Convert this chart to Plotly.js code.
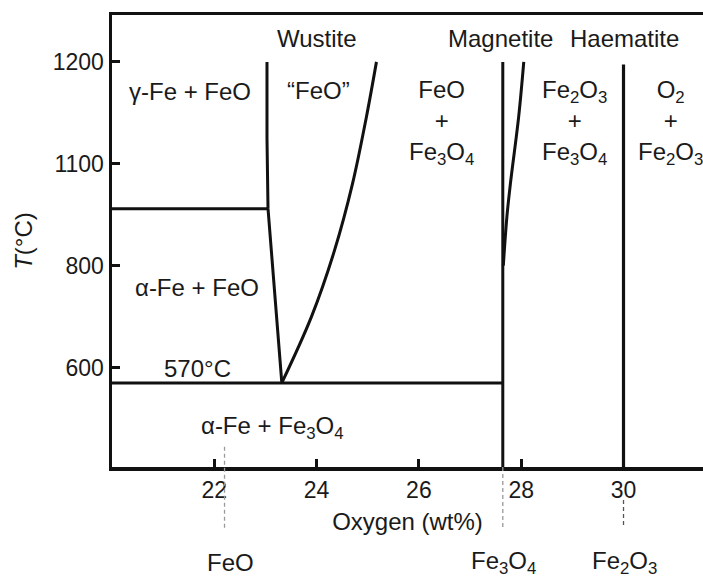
<!DOCTYPE html>
<html>
<head>
<meta charset="utf-8">
<script src="https://cdn.plot.ly/plotly-3.0.1.min.js"></script>
<style>html,body{margin:0;padding:0;background:#fff;}#chart{width:703px;height:579px;}</style>
</head>
<body>
<div id="chart"></div>
<script>
// ---- data (Oxygen wt% vs temperature °C) ----
const wustiteLeftX  = [23.03, 23.03, 23.05, 23.32];
const wustiteLeftT  = [1200, 1050, 912, 570];
const wustiteRightX = [23.32, 23.9, 24.35, 24.7, 24.97, 25.17];
const wustiteRightT = [570, 700, 830, 960, 1090, 1200];
const gammaAlphaX   = [20, 23.03];
const gammaAlphaT   = [912, 912];
const eutectoidX    = [20, 27.64];
const eutectoidT    = [570, 570];
const magnetiteLeftX  = [27.64, 27.64];
const magnetiteLeftT  = [400, 1200];
const magnetiteRightX = [27.65, 27.72, 27.79, 27.95, 28.05];
const magnetiteRightT = [800, 896, 962, 1092, 1200];
const haematiteX = [30.0, 30.0];
const haematiteT = [400, 1195];

const xTicks = [22, 24, 26, 28, 30];
const yTickVals = [600, 800, 1000, 1200];
const yTickText = ['600', '800', '1100', '1200'];

const compoundNames = ['FeO', 'Fe<sub>3</sub>O<sub>4</sub>', 'Fe<sub>2</sub>O<sub>3</sub>'];
const compoundX = [22.2, 27.64, 30.0];

const regionLabels = ['Wustite', 'Magnetite', 'Haematite', 'γ-Fe + FeO', '“FeO”',
  'FeO<br>+<br>Fe<sub>3</sub>O<sub>4</sub>', 'Fe<sub>2</sub>O<sub>3</sub><br>+<br>Fe<sub>3</sub>O<sub>4</sub>',
  'O<sub>2</sub><br>+<br>Fe<sub>2</sub>O<sub>3</sub>', 'α-Fe + FeO', '570°C', 'α-Fe + Fe<sub>3</sub>O<sub>4</sub>'];
const regionX = [24.01, 27.59, 30.01, 21.53, 24.03, 26.45, 29.05, 30.91, 21.67, 21.67, 23.13];
const regionT = [1245, 1245, 1245, 1141, 1143, 1082, 1082, 1082, 758, 599, 482];

// ---- drawing ----
const INK = '#111';
const FAMILY = 'Liberation Sans, Arial, Helvetica, sans-serif';
const FONT = {family: FAMILY, size: 24, color: '#1a1a1a'};
const TICKFONT = {family: FAMILY, size: 23, color: '#1a1a1a'};

function line(x, y, w, smooth) {
  return {x: x, y: y, type: 'scatter', mode: 'lines',
    line: {color: INK, width: w || 3, shape: smooth ? 'spline' : 'linear', smoothing: 1},
    hoverinfo: 'skip', showlegend: false};
}
const traces = [
  line(wustiteLeftX, wustiteLeftT),
  line(wustiteRightX, wustiteRightT, 3, true),
  line(gammaAlphaX, gammaAlphaT),
  line(eutectoidX, eutectoidT),
  line(magnetiteLeftX, magnetiteLeftT),
  line(magnetiteRightX, magnetiteRightT, 3, true),
  line(haematiteX, haematiteT, 3.2)
];

const annotations = regionLabels.map((t, i) => ({
  x: regionX[i], y: regionT[i], xref: 'x', yref: 'y', text: t, showarrow: false,
  font: FONT, xanchor: 'center', yanchor: 'middle'
}));
compoundNames.forEach((t, i) => {
  annotations.push({x: compoundX[i], y: -0.212, xref: 'x', yref: 'paper', text: t, showarrow: false,
    font: FONT, xanchor: 'center', yanchor: 'middle', xshift: i === 0 ? 6 : 1});
});

const dashTop = [0.045, 0, -0.073];
const dashColor = ['#9a9a9a', '#9a9a9a', '#555'];
const shapes = compoundX.map((x, i) => ({
  type: 'line', xref: 'x', yref: 'paper', x0: x, x1: x, y0: dashTop[i], y1: -0.135,
  line: {color: dashColor[i], width: 1.3, dash: '4px,3px'}
}));

const layout = {
  width: 703, height: 579,
  margin: {l: 112, r: 0, t: 15, b: 112},
  paper_bgcolor: '#fff', plot_bgcolor: '#fff',
  font: FONT,
  showlegend: false,
  xaxis: {
    range: [20, 31.554], tickvals: xTicks, ticks: 'inside', ticklen: 8, tickwidth: 3, tickcolor: INK,
    showline: true, linewidth: 3.5, linecolor: INK, mirror: true, showgrid: false, zeroline: false,
    tickfont: TICKFONT, fixedrange: true,
    title: {text: 'Oxygen (wt%)', font: FONT, standoff: 12}
  },
  yaxis: {
    range: [405, 1292], tickvals: yTickVals, ticktext: yTickText, ticks: 'inside', ticklen: 8, tickwidth: 3, tickcolor: INK,
    showline: true, linewidth: 3.5, linecolor: INK, mirror: false, showgrid: false, zeroline: false,
    tickfont: TICKFONT, fixedrange: true,
    title: {text: '<i>T</i>(°C)', font: FONT, standoff: 14}
  },
  annotations: annotations,
  shapes: shapes
};

Plotly.newPlot('chart', traces, layout, {displayModeBar: false, staticPlot: true});
</script>
</body>
</html>
